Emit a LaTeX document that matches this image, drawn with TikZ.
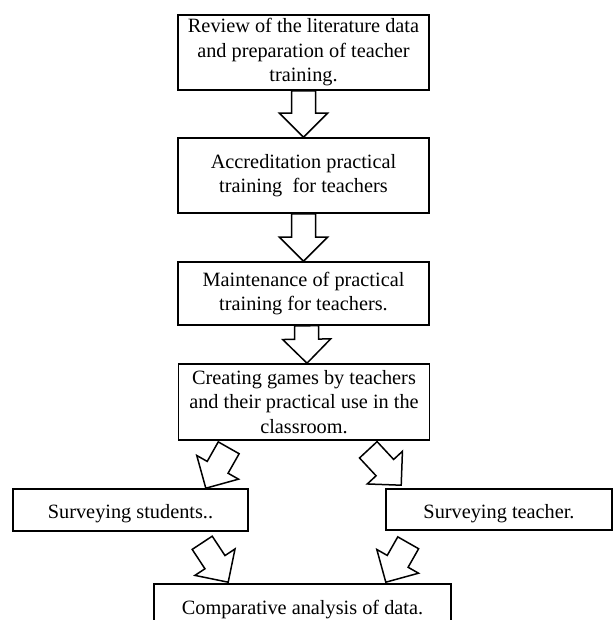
\documentclass[tikz,border=0pt]{standalone}
\usepackage{fontspec}
\setmainfont{Liberation Serif}
\usetikzlibrary{calc}

\tikzset{
	stagebox/.style={draw, line width=1.6pt, minimum width=251pt, inner sep=0pt, align=center, font=\fontsize{20.3}{24.5}\selectfont, execute at begin node={\rule{0pt}{22pt}}},
	arrowbody/.style={draw, line width=1.5pt, fill=white, line join=miter}
}

% hollow block arrow from #1 (tail) to #2 (tip)
\newcommand{\blockarrow}[2]{%
	\coordinate (ba-t) at (#1);
	\coordinate (ba-h) at (#2);
	\coordinate (ba-b) at ($(ba-h)!24pt!(ba-t)$);
	\draw[arrowbody] ($(ba-t)!12pt!90:(ba-h)$) -- ($(ba-b)!12pt!90:(ba-h)$)
		-- ($(ba-b)!24pt!90:(ba-h)$) -- (ba-h) -- ($(ba-b)!24pt!-90:(ba-h)$)
		-- ($(ba-b)!12pt!-90:(ba-h)$) -- ($(ba-t)!12pt!-90:(ba-h)$) -- cycle;
}

\begin{document}
\begin{tikzpicture}[x=1pt, y=-1pt]
			\useasboundingbox (0, 0) rectangle (613, 620);
			\clip (0, 0) rectangle (613, 620);
			
			% Main column
			\node[stagebox, minimum height=75pt] (review) at (303.5, 52.5) {Review of the literature data\\and preparation of teacher\\training.};
			
			\node[stagebox, minimum height=75pt] (accred) at (303.5, 175.5) {Accreditation practical\\training~ for teachers};
			
			\node[stagebox, minimum height=63pt] (maint) at (303.5, 293.5) {Maintenance of practical\\training for teachers.};
			
			\node[stagebox, minimum height=76pt] (games) at (304, 402) {Creating games by teachers\\and their practical use in the\\classroom.};
			
			% Surveys
			\node[stagebox, minimum width=235pt, minimum height=42pt] (students) at (130.5, 510) {Surveying students..};
			
			\node[stagebox, minimum width=226pt, minimum height=41pt] (teacher) at (499, 509.5) {Surveying teacher.};
			
			% Bottom (cut by the page)
			\node[stagebox, minimum width=297pt, minimum height=44pt] (compare) at (302.5, 606) {Comparative analysis of data.};
			
			% Straight arrows
			\blockarrow{review.south}{accred.north}
			\blockarrow{accred.south}{maint.north}
			\blockarrow{$(maint.south)+(3, 0)$}{$(games.north)+(3, 0)$}
			
			% Slanted arrows
			\blockarrow{$(games.south west)+(51, 7)$}{$(students.north east)+(-43, 0)$}
			\blockarrow{$(games.south east)+(-62, 9)$}{$(teacher.north west)+(16, -3)$}
			\blockarrow{$(students.south west)+(190, 11)$}{$(compare.north west)+(75, -1)$}
			\blockarrow{$(teacher.south west)+(23, 12)$}{$(compare.north east)+(-66, -1)$}
			
		\end{tikzpicture}
\end{document}
